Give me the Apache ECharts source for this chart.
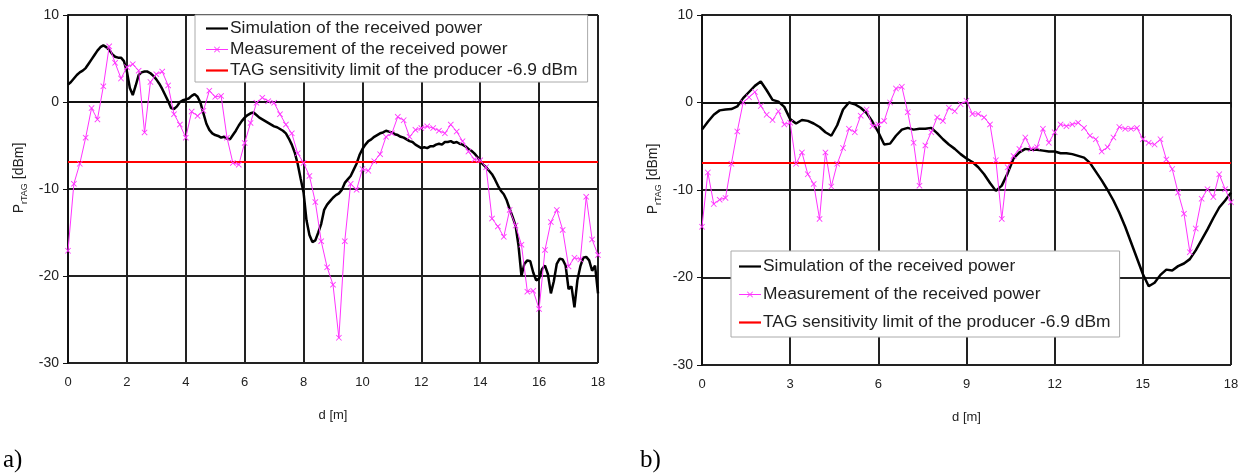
<!DOCTYPE html>
<html>
<head>
<meta charset="utf-8">
<script src="https://cdn.jsdelivr.net/npm/echarts@6/dist/echarts.min.js"></script>
<style>
  html, body { margin: 0; padding: 0; background: #fff; }
  #chart { width: 1247px; height: 476px; }
</style>
</head>
<body>
<div id="chart"></div>
<script>
// distances are sampled on a fixed step (simulation 0.1 m / 0.2 m, measurement 0.2 m)
const simStepA = 0.1;
const measStep = 0.2;
const simStepB = 0.2;

// a) received power, simulation [dBm]
const simA = [
  2.0, 2.3, 2.7, 3.1, 3.4, 3.6, 3.9, 4.4, 4.9, 5.4,
  5.9, 6.3, 6.5, 6.3, 6.0, 5.5, 5.2, 5.1, 5.1, 4.7,
  3.5, 1.6, 0.8, 1.9, 3.1, 3.4, 3.5, 3.5, 3.3, 3.0,
  2.6, 2.1, 1.5, 0.8, 0.1, -0.7, -0.8, -0.5, 0.0, 0.2,
  0.3, 0.4, 0.7, 0.9, 0.6, -0.1, -1.3, -2.5, -3.2, -3.6,
  -3.8, -3.9, -4.1, -4.0, -4.2, -4.3, -3.8, -3.3, -2.7, -2.2,
  -1.8, -1.5, -1.3, -1.2, -1.5, -1.8, -2.0, -2.2, -2.4, -2.6,
  -2.8, -2.9, -3.1, -3.3, -3.6, -4.2, -4.9, -5.8, -7.1, -8.8,
  -10.4, -13.6, -15.3, -16.1, -15.9, -15.0, -14.0, -12.4, -11.8, -11.4,
  -11.0, -10.7, -10.5, -10.1, -9.3, -8.9, -8.5, -7.8, -7.1, -6.1,
  -5.4, -4.9, -4.5, -4.3, -4.0, -3.8, -3.6, -3.5, -3.3, -3.4,
  -3.5, -3.7, -3.8, -4.0, -4.1, -4.3, -4.5, -4.6, -4.9, -5.1,
  -5.3, -5.2, -5.3, -5.1, -5.1, -4.9, -4.8, -4.9, -4.6, -4.6,
  -4.5, -4.7, -4.6, -4.8, -4.9, -5.1, -5.4, -5.6, -5.9, -6.3,
  -6.8, -7.2, -7.5, -7.9, -8.3, -8.9, -9.6, -10.2, -10.6, -11.3,
  -12.3, -13.2, -14.2, -16.5, -20.0, -18.6, -18.2, -18.3, -19.6, -20.5,
  -20.3, -19.2, -18.8, -19.8, -22.0, -20.6, -18.6, -18.0, -18.1, -18.8,
  -21.5, -21.2, -23.6, -20.5, -18.9, -17.9, -17.8, -18.2, -19.4, -18.8,
  -22.0
];

// a) received power, measurement [dBm]
const measA = [
  -17.1, -9.4, -7.1, -4.1, -0.7, -2.0, 1.8, 6.4, 4.5, 2.7,
  4.0, 4.35, 3.6, -3.5, 2.3, 3.2, 3.5, 1.9, -1.4, -2.6,
  -4.1, -1.1, -1.6, -1.0, 1.3, 0.6, 0.7, -4.1, -7.0, -7.2,
  -4.7, -2.4, -0.1, 0.5, 0.1, -0.1, -1.4, -2.6, -3.6, -5.9,
  -7.0, -8.5, -11.5, -16.0, -19.0, -21.0, -27.1, -16.0, -9.4, -10.1,
  -7.7, -7.9, -6.8, -6.0, -4.0, -3.6, -1.7, -2.1, -4.0, -3.2,
  -3.0, -2.8, -3.0, -3.3, -3.6, -2.6, -3.4, -4.5, -5.7, -6.6,
  -6.7, -7.5, -13.4, -14.3, -15.5, -12.4, -14.2, -16.4, -21.8, -21.7,
  -23.8, -17.0, -13.8, -12.4, -14.7, -18.9, -17.9, -18.1, -10.9, -15.8,
  -17.6
];

// b) received power, simulation [dBm]
const simB = [
  -3.1, -2.2, -1.4, -0.9, -0.8, -0.75, -0.45, 0.5, 1.2, 1.9,
  2.4, 1.4, 0.3, 0.1, -0.5, -1.9, -2.4, -2.0, -2.1, -2.4,
  -2.8, -3.4, -3.8, -2.6, -0.8, 0.0, -0.2, -0.6, -1.2, -2.2,
  -3.4, -4.8, -4.7, -3.8, -3.1, -2.9, -3.1, -3.0, -3.0, -2.9,
  -3.5, -4.2, -4.8, -5.3, -5.9, -6.4, -6.8, -7.4, -8.2, -9.2,
  -10.1, -9.5, -8.1, -6.4, -5.7, -5.3, -5.4, -5.4, -5.5, -5.6,
  -5.6, -5.8, -5.8, -5.9, -6.1, -6.3, -6.9, -7.9, -8.9, -10.0,
  -11.2, -12.6, -14.2, -16.0, -17.8, -19.6, -21.0, -20.6, -19.7, -19.1,
  -19.2, -18.7, -18.4, -17.9, -16.9, -15.7, -14.5, -13.2, -12.0, -11.2,
  -10.3
];

// b) received power, measurement [dBm]
const measB = [
  -14.2, -8.0, -11.6, -11.1, -10.9, -7.0, -3.3, 0.0, 0.6, 1.2,
  -0.4, -1.4, -2.0, -1.0, -2.5, -2.3, -7.0, -5.7, -8.2, -9.3,
  -13.3, -5.7, -9.6, -7.0, -5.2, -3.0, -3.4, -1.5, -0.8, -2.7,
  -2.5, -2.1, 0.0, 1.6, 1.8, -1.1, -4.6, -9.5, -4.9, -3.4,
  -1.7, -2.1, -0.6, -1.0, -0.2, 0.2, -1.3, -1.3, -1.7, -2.5,
  -6.6, -13.3, -7.4, -6.1, -5.3, -4.0, -5.3, -5.1, -3.0, -4.6,
  -3.4, -2.5, -2.7, -2.5, -2.3, -2.9, -3.8, -4.2, -5.6, -5.1,
  -4.0, -2.8, -3.0, -3.0, -2.9, -4.2, -4.6, -4.8, -4.2, -6.5,
  -7.6, -10.3, -12.7, -17.1, -14.4, -11.0, -9.9, -10.8, -8.2, -9.9,
  -11.4
];

const sensitivityLimit = -6.9;   // dBm
const dRange = [0, 18];          // m
const xIntervals = [2, 3];
const yTicks = [-30, -20, -10, 0, 10];

const seriesNames = [
  "Simulation of the received power",
  "Measurement of the received power",
  "TAG sensitivity limit of the producer -6.9 dBm"
];
const panelLabels = ["a)", "b)"];

const font = "'Liberation Sans', Arial, sans-serif";
const xMark = "path://M0,1L1,0L5,4L9,0L10,1L6,5L10,9L9,10L5,6L1,10L0,9L4,5Z";
// legend keys: a plain stroke, and a stroke crossed by a small x
const lineIcon = "path://M0,0H22V2.2H0Z";
const markIcon = "path://M0,4.5H22V5.5H0Z M8,2.6L8.6,2L11,4.4L13.4,2L14,2.6L11.6,5L14,7.4L13.4,8L11,5.6L8.6,8L8,7.4L10.4,5Z";

function toPairs(vals, step) {
  return vals.map((v, i) => [Math.round(i * step * 100) / 100, v]);
}

function xAxis(gridIndex, interval) {
  return {
    type: "value",
    gridIndex: gridIndex,
    min: dRange[0],
    max: dRange[1],
    interval: interval,
    name: "d [m]",
    nameLocation: "middle",
    nameGap: 46,
    nameTextStyle: { fontFamily: font, fontSize: 13, color: "#222" },
    axisLine: { lineStyle: { color: "#111", width: 2 } },
    axisTick: { show: true, length: 5, lineStyle: { color: "#111", width: 1 } },
    axisLabel: { margin: 13, fontFamily: font, fontSize: 13, color: "#222" },
    splitLine: { show: true, lineStyle: { color: "#222", width: 2 } }
  };
}

function yAxis(gridIndex) {
  return {
    type: "value",
    gridIndex: gridIndex,
    min: yTicks[0],
    max: yTicks[yTicks.length - 1],
    interval: 10,
    name: "{p|P}{s|rTAG}{n| [dBm]}",
    nameLocation: "middle",
    nameGap: 42,
    nameTextStyle: {
      padding: [0, 0, 0, 22],
      rich: {
        p: { fontFamily: font, fontSize: 14, color: "#222", verticalAlign: "bottom", lineHeight: 16 },
        s: { fontFamily: font, fontSize: 9, color: "#222", verticalAlign: "bottom", lineHeight: 12, padding: [0, 0, -3, 0] },
        n: { fontFamily: font, fontSize: 14, color: "#222", verticalAlign: "bottom", lineHeight: 16 }
      }
    },
    axisLine: { show: true, onZero: false, lineStyle: { color: "#111", width: 2 } },
    axisTick: { show: true, length: 5, lineStyle: { color: "#111", width: 1 } },
    axisLabel: { margin: 9, fontFamily: font, fontSize: 14, color: "#222" },
    splitLine: { show: true, lineStyle: { color: "#222", width: 2 } }
  };
}

function panelSeries(idx, sim, simStep, meas) {
  return [
    {
      name: seriesNames[0],
      type: "line",
      xAxisIndex: idx,
      yAxisIndex: idx,
      data: toPairs(sim, simStep),
      symbol: "none",
      lineStyle: { color: "#000", width: 2.5 },
      itemStyle: { color: "#000" }
    },
    {
      name: seriesNames[1],
      type: "line",
      xAxisIndex: idx,
      yAxisIndex: idx,
      data: toPairs(meas, measStep),
      symbol: xMark,
      symbolSize: 6,
      showSymbol: true,
      lineStyle: { color: "#ff33ff", width: 1 },
      itemStyle: { color: "#ff33ff" }
    },
    {
      name: seriesNames[2],
      type: "line",
      xAxisIndex: idx,
      yAxisIndex: idx,
      data: [[dRange[0], sensitivityLimit], [dRange[1], sensitivityLimit]],
      symbol: "none",
      lineStyle: { color: "#ff0000", width: 2 },
      itemStyle: { color: "#ff0000" }
    }
  ];
}

const legendBase = {
  orient: "vertical",
  backgroundColor: "#fff",
  borderColor: "#aaa",
  borderWidth: 1,
  borderRadius: 0,
  itemWidth: 22,
  itemHeight: 10,
  symbolKeepAspect: true,
  textStyle: { fontFamily: font, fontSize: 17.4, color: "#222", lineHeight: 17, padding: [0, 0, 0, -3] },
  data: [
    { name: seriesNames[0], icon: lineIcon },
    { name: seriesNames[1], icon: markIcon },
    { name: seriesNames[2], icon: lineIcon }
  ]
};

const chart = echarts.init(document.getElementById("chart"), null, { renderer: "canvas" });

chart.setOption({
  animation: false,
  backgroundColor: "#fff",
  title: [
    { text: panelLabels[0], left: -2, top: 443, textStyle: { fontFamily: "'Liberation Serif', serif", fontSize: 25, fontWeight: "normal", color: "#000" } },
    { text: panelLabels[1], left: 635, top: 443, textStyle: { fontFamily: "'Liberation Serif', serif", fontSize: 25, fontWeight: "normal", color: "#000" } }
  ],
  grid: [
    { left: 68, top: 15, width: 530, height: 348 },
    { left: 702, top: 15, width: 529, height: 350 }
  ],
  legend: [
    Object.assign({}, legendBase, { left: 195, top: 15, itemGap: 4, padding: [5, 10, 3, 11] }),
    Object.assign({}, legendBase, { left: 731, top: 251, itemGap: 11, padding: [7, 9, 6, 8] })
  ],
  xAxis: [xAxis(0, xIntervals[0]), xAxis(1, xIntervals[1])],
  yAxis: [yAxis(0), yAxis(1)],
  series: panelSeries(0, simA, simStepA, measA).concat(panelSeries(1, simB, simStepB, measB))
});
</script>
</body>
</html>
